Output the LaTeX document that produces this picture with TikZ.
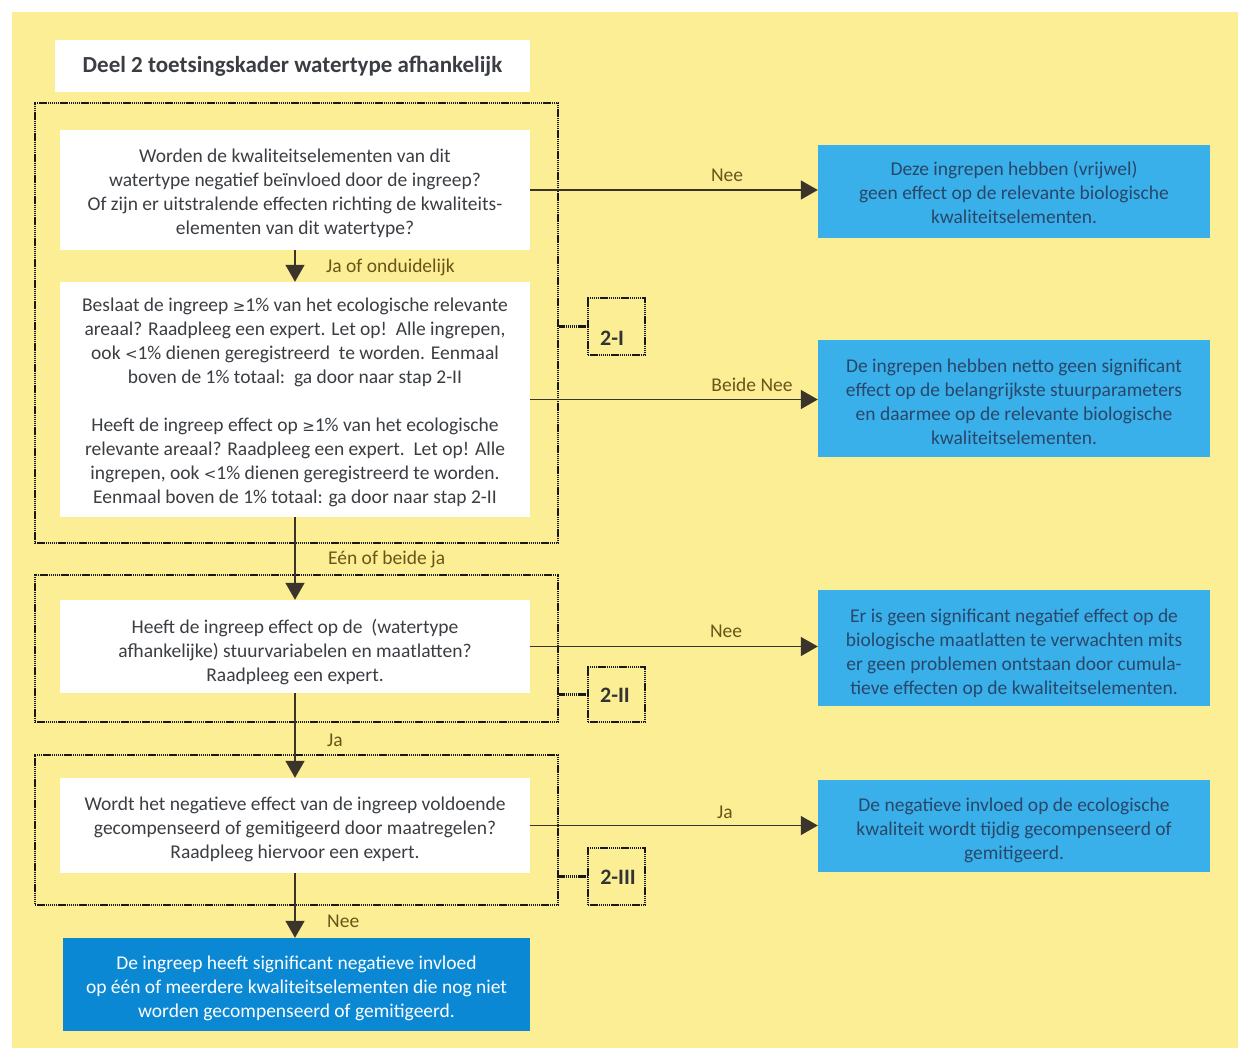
\documentclass[tikz,border=0pt]{standalone}
\usepackage{fontspec}
\setmainfont{Carlito}
\newfontfamily\symf{DejaVu Sans}
\usetikzlibrary{arrows.meta,calc}
\definecolor{bgyellow}{HTML}{FBEE94}
\definecolor{lblue}{HTML}{3AB0EA}
\definecolor{dblue}{HTML}{0A88D4}
\definecolor{txtgray}{HTML}{3A3D42}
\definecolor{txtnavy}{HTML}{28476A}
\definecolor{lblc}{HTML}{6A5418}
\definecolor{arrowc}{HTML}{3A342A}
\newcommand{\gesym}{{\symf\fontsize{15}{24}\selectfont ≥}}
\newcommand{\ltsym}{{\symf\fontsize{15}{24}\selectfont <}}
\begin{document}
\begin{tikzpicture}[x=1pt,y=-1pt,
  basefont/.style={font=\fontsize{19.5}{24}\selectfont},
  whitebox/.style={fill=white, minimum width=470pt, inner sep=0pt},
  bluebox/.style={fill=lblue, minimum width=392pt, inner sep=0pt},
  darkbox/.style={fill=dblue, minimum width=467pt, inner sep=0pt},
  tx/.style={basefont, align=center, inner sep=0pt, text=txtgray},
  txb/.style={tx, text=txtnavy},
  txw/.style={tx, text=white},
  frame/.style={draw=black!90, line width=2.4pt, dash pattern=on 1.4pt off 0.7pt, inner sep=0pt},
  tagbox/.style={frame, minimum width=57pt},
  tagtxt/.style={font=\fontsize{22}{24}\selectfont\bfseries, text=black!80, inner sep=0pt},
  arr/.style={draw=arrowc, line width=1.4pt, -{Triangle[width=19pt,length=17pt]}},
  dotc/.style={draw=black!90, line width=2.4pt, dash pattern=on 1.4pt off 0.7pt},
  lbl/.style={basefont, text=lblc, inner sep=0pt}
]
\useasboundingbox (0,0) rectangle (1238,1048);
\fill[white] (0,0) rectangle (1238,1048);
\fill[bgyellow] (12,12) rectangle (1238,1048);

% title
\node[fill=white, minimum width=475pt, minimum height=52pt, inner sep=0pt,
      font=\fontsize{23}{26}\selectfont\bfseries, text=txtgray] (title) at (292.5,66) {Deel 2 toetsingskader watertype afhankelijk};

% frames
\node[frame, minimum width=523pt, minimum height=440pt] (F1) at (296.5,323) {};
\node[frame, minimum width=523pt, minimum height=147pt] (F2) at (296.5,648.5) {};
\node[frame, minimum width=523pt, minimum height=150pt] (F3) at (296.5,830) {};

% left boxes
\node[whitebox, minimum height=120pt] (A) at (295,190) {};
\node[tx] (At) at ($(A.center)+(0,3)$) {Worden de kwaliteitselementen van dit\\watertype negatief beïnvloed door de ingreep?\\Of zijn er uitstralende effecten richting de kwaliteits-\\elementen van dit watertype?};
\node[whitebox, minimum height=235pt] (B) at (295,399.5) {};
\node[tx] (Bt) at ($(B.center)+(0,3)$) {Beslaat de ingreep \gesym1\% van het ecologische relevante\\areaal? Raadpleeg een expert. Let op!\ \ Alle ingrepen,\\ook \ltsym1\% dienen geregistreerd\ \ te worden. Eenmaal\\boven de 1\% totaal:\ \ ga door naar stap 2-II\\[24pt]Heeft de ingreep effect op \gesym1\% van het ecologische\\relevante areaal? Raadpleeg een expert.\ \ Let op! Alle\\ingrepen, ook \ltsym1\% dienen geregistreerd te worden.\\Eenmaal boven de 1\% totaal: ga door naar stap 2-II};
\node[whitebox, minimum height=93pt] (C) at (295,646.5) {};
\node[tx] (Ct) at ($(C.center)+(0,6)$) {Heeft de ingreep effect op de\ \ (watertype\\afhankelijke) stuurvariabelen en maatlatten?\\Raadpleeg een expert.};
\node[whitebox, minimum height=95pt] (D) at (295,825.5) {};
\node[tx] (Dt) at ($(D.center)+(0,3.5)$) {Wordt het negatieve effect van de ingreep voldoende\\gecompenseerd of gemitigeerd door maatregelen?\\Raadpleeg hiervoor een expert.};
\node[darkbox, minimum height=93pt] (E) at (296.5,984.5) {};
\node[txw] (Et) at ($(E.center)+(0,4)$) {De ingreep heeft significant negatieve invloed\\op één of meerdere kwaliteitselementen die nog niet\\worden gecompenseerd of gemitigeerd.};

% right boxes
\node[bluebox, minimum height=93pt] (R1) at (1014,191.5) {};
\node[txb] (R1t) at ($(R1.center)+(0,1)$) {Deze ingrepen hebben (vrijwel)\\geen effect op de relevante biologische\\kwaliteitselementen.};
\node[bluebox, minimum height=117pt] (R2) at (1014,398.5) {};
\node[txb] (R2t) at ($(R2.center)+(0,3)$) {De ingrepen hebben netto geen significant\\effect op de belangrijkste stuurparameters\\en daarmee op de relevante biologische\\kwaliteitselementen.};
\node[bluebox, minimum height=116pt] (R3) at (1014,648) {};
\node[txb] (R3t) at ($(R3.center)+(0,5)$) {Er is geen significant negatief effect op de\\biologische maatlatten te verwachten mits\\er geen problemen ontstaan door cumula-\\tieve effecten op de kwaliteitselementen.};
\node[bluebox, minimum height=92pt] (R4) at (1014,826) {};
\node[txb] (R4t) at ($(R4.center)+(0,4)$) {De negatieve invloed op de ecologische\\kwaliteit wordt tijdig gecompenseerd of\\gemitigeerd.};

% tags
\node[tagbox, minimum height=57pt] (T1) at (616.5,326.5) {};
\node[tagbox, minimum height=55pt] (T2) at (616.5,694.5) {};
\node[tagbox, minimum height=57pt] (T3) at (616.5,876.5) {};
\node[tagtxt] (t1) at (612,338) {2-I};
\node[tagtxt] (t2) at (615,695) {2-II};
\node[tagtxt] (t3) at (618,877) {2-III};

% tag connectors
\draw[dotc] (T1.west -| F1.east) -- (T1.west);
\draw[dotc] (T2.west -| F2.east) -- (T2.west);
\draw[dotc] (T3.west -| F3.east) -- (T3.west);

% vertical arrows
\draw[arr] (A.south) -- (B.north);
\draw[arr] (B.south) -- (C.north);
\draw[arr] (C.south) -- (D.north);
\draw[arr] (D.south) -- (D.south |- E.north);

% horizontal arrows
\draw[arr] (A.east) -- (A.east -| R1.west);
\draw[arr] (B.east) -- (B.east -| R2.west);
\draw[arr] (C.east) -- (C.east -| R3.west);
\draw[arr] (D.east) -- (D.east -| R4.west);

% labels
\node[lbl, anchor=west] (l1) at (326,267) {Ja of onduidelijk};
\node[lbl, anchor=west] (l2) at (328,559) {Eén of beide ja};
\node[lbl, anchor=west] (l3) at (327,740) {Ja};
\node[lbl, anchor=west] (l4) at (327,921) {Nee};
\node[lbl] (l5) at (727,175) {Nee};
\node[lbl] (l6) at (752,385) {Beide Nee};
\node[lbl] (l7) at (726,631) {Nee};
\node[lbl] (l8) at (725,812) {Ja};
\end{tikzpicture}
\end{document}
